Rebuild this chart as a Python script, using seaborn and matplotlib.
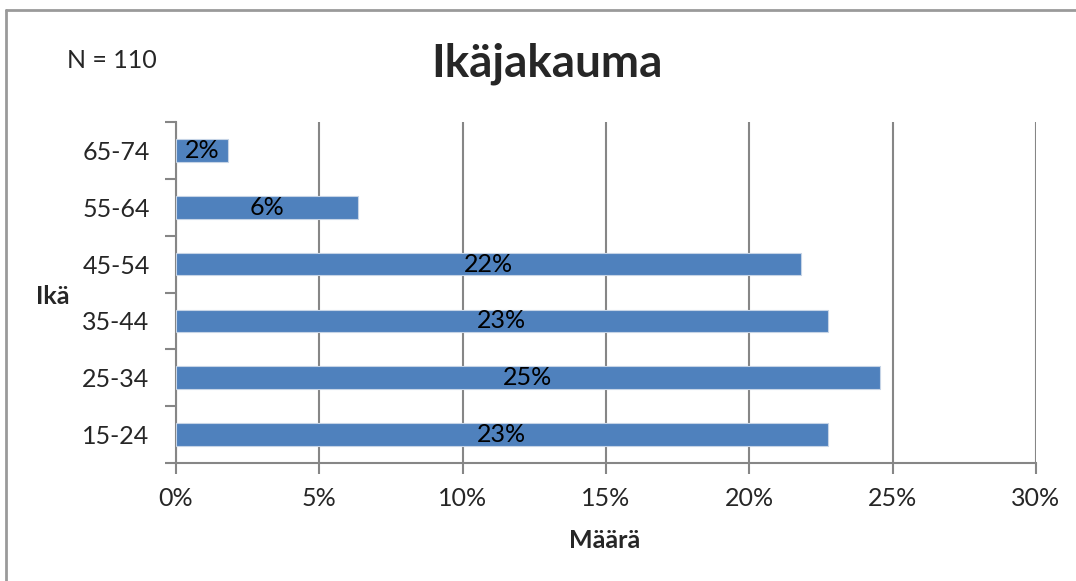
import numpy as np
import pandas as pd
import seaborn as sns
import matplotlib.pyplot as plt
from matplotlib.lines import Line2D
from matplotlib.ticker import FuncFormatter, FixedLocator

# age groups, top to bottom as in the chart
age_groups = ["65-74", "55-64", "45-54", "35-44", "25-34", "15-24"]
counts = [2, 7, 24, 25, 27, 25]
total_n = 110
x_ticks = [0, 0.05, 0.10, 0.15, 0.20, 0.25, 0.30]

BAR_COLOR = "#4F81BD"
GRID_COLOR = "#868686"
FS = 18

df = pd.DataFrame({"age": age_groups, "share": np.array(counts) / total_n})

sns.set_style("white")
plt.rcParams["font.family"] = ["Lato", "DejaVu Sans"]

fig = plt.figure(figsize=(10.76, 5.81), dpi=100)
ax = fig.add_axes([176 / 1076, 1 - 463 / 581, 860 / 1076, 341 / 581])

sns.barplot(data=df, x="share", y="age", order=age_groups, color=BAR_COLOR,
            width=0.4, saturation=1, edgecolor="#c6d4e6", linewidth=0.8,
            ax=ax, zorder=3)

# data labels centred in the bars
for i, v in enumerate(df["share"]):
    ax.text(v / 2, i, f"{v:.0%}", ha="center", va="center", fontsize=FS,
            color="black", zorder=4)

ax.set_xlim(0, 0.30)
ax.set_ylim(len(age_groups) - 0.5, -0.5)
ax.xaxis.set_major_locator(FixedLocator(x_ticks))
ax.xaxis.set_major_formatter(FuncFormatter(lambda v, p: f"{v:.0%}"))
ax.grid(axis="x", color=GRID_COLOR, linewidth=1.5, zorder=0)
ax.grid(axis="y", visible=False)

# tick marks on category boundaries
ax.yaxis.set_minor_locator(FixedLocator(np.arange(-0.5, len(age_groups), 1)))
ax.tick_params(axis="y", which="major", length=0, pad=19, labelsize=FS)
ax.tick_params(axis="y", which="minor", length=8, width=1.5, color=GRID_COLOR, left=True)
ax.tick_params(axis="x", which="major", length=8, width=1.5, color=GRID_COLOR,
               bottom=True, labelsize=FS, pad=9)

for side in ["top", "right"]:
    ax.spines[side].set_visible(False)
for side in ["left", "bottom"]:
    ax.spines[side].set_color(GRID_COLOR)
    ax.spines[side].set_linewidth(1.5)

ax.set_xlabel("")
ax.set_ylabel("")
fig.text(605 / 1076, 1 - 540 / 581, "Määrä", ha="center", va="center",
         fontsize=FS, fontweight="bold")
fig.text(53 / 1076, 1 - 296 / 581, "Ikä", ha="center", va="center",
         fontsize=FS, fontweight="bold")

fig.text(547 / 1076, 1 - 64 / 581, "Ikäjakauma", ha="center", va="center",
         fontsize=33, fontweight="bold")
fig.text(112 / 1076, 1 - 60 / 581, "N = 110", ha="center", va="center", fontsize=FS)

# chart area border (left and top edges visible)
fig.add_artist(Line2D([6 / 1076, 6 / 1076], [0, 1 - 10 / 581], color="#9a9a9a", linewidth=2))
fig.add_artist(Line2D([6 / 1076, 1], [1 - 10 / 581, 1 - 10 / 581], color="#9a9a9a", linewidth=2))

plt.savefig("out.png", dpi=100)
plt.close()
